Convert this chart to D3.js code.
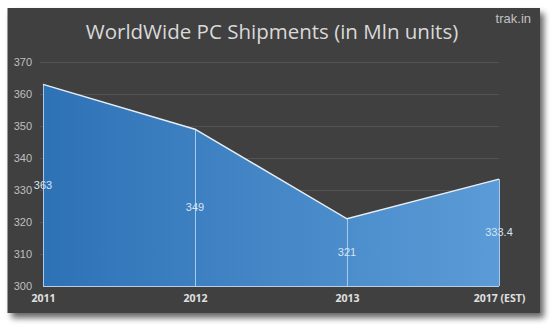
<!DOCTYPE html>
<html><head><meta charset="utf-8">
<script src="https://cdn.jsdelivr.net/npm/d3@7"></script>
<style>
html,body{margin:0;padding:0;background:#fff;}
svg{display:block;}
</style></head>
<body>
<svg id="c" width="551" height="326"></svg>
<script>
const categories = ["2011", "2012", "2013", "2017 (EST)"];
const values = [363, 349, 321, 333.4];
const valueLabels = ["363", "349", "321", "333.4"];
const yTicks = [300, 310, 320, 330, 340, 350, 360, 370];
const title = "WorldWide PC Shipments (in Mln units)";
const watermark = "trak.in";

const svg = d3.select("#c");
const defs = svg.append("defs");
const sh = defs.append("filter").attr("id","sh").attr("x","-5%").attr("y","-5%").attr("width","115%").attr("height","120%");
sh.append("feGaussianBlur").attr("in","SourceAlpha").attr("stdDeviation",3);
sh.append("feOffset").attr("dx",4).attr("dy",5).attr("result","b");
sh.append("feComponentTransfer").append("feFuncA").attr("type","linear").attr("slope",0.6);
const m = sh.append("feMerge"); m.append("feMergeNode"); m.append("feMergeNode").attr("in","SourceGraphic");

const gr = defs.append("linearGradient").attr("id","ag").attr("x1","0").attr("x2","1").attr("y1","0").attr("y2","0");
gr.append("stop").attr("offset","0").attr("stop-color","#2e72b6");
gr.append("stop").attr("offset","1").attr("stop-color","#5b9bd7");

svg.append("rect").attr("x",7.5).attr("y",8).attr("width",532.5).attr("height",305)
  .attr("fill","#404040").attr("filter","url(#sh)");

const x = d3.scalePoint().domain(categories).range([43, 499]);
const y = d3.scaleLinear().domain([300, 370]).range([286, 62]);

// gridlines
svg.append("g").selectAll("line").data(yTicks.filter(t=>t>300)).join("line")
  .attr("x1",40).attr("x2",499).attr("y1",d=>y(d)+0.5).attr("y2",d=>y(d)+0.5)
  .attr("stroke","#535353").attr("stroke-width",1);

const data = categories.map((c,i)=>({c, v: values[i], l: valueLabels[i]}));
const area = d3.area().x(d=>x(d.c)).y0(y(300)).y1(d=>y(d.v));
svg.append("path").datum(data).attr("d",area).attr("fill","url(#ag)");
// drop lines
svg.append("g").selectAll("line").data(data).join("line")
  .attr("x1",d=>x(d.c)+0.5).attr("x2",d=>x(d.c)+0.5).attr("y1",d=>y(d.v)).attr("y2",y(300))
  .attr("stroke","#a9c9ec").attr("stroke-width",1);
const line = d3.line().x(d=>x(d.c)).y(d=>y(d.v));
svg.append("path").datum(data).attr("d",line).attr("fill","none").attr("stroke","#e8eef6").attr("stroke-width",1.5);
// baseline
svg.append("line").attr("x1",43).attr("x2",499).attr("y1",y(300)+0.5).attr("y2",y(300)+0.5)
  .attr("stroke","#b8cfe6").attr("stroke-width",1);

// y axis labels
const yAxis = d3.axisLeft(y).tickValues(yTicks).tickSize(0).tickPadding(0);
const ya = svg.append("g").attr("transform","translate(32,0)").call(yAxis);
ya.select(".domain").remove();
ya.selectAll("text").attr("fill","#bfbfbf").style("font-family","'Liberation Sans',Arial,sans-serif").style("font-size","11px");

// x axis labels
const xAxis = d3.axisBottom(x).tickSize(0).tickPadding(0);
const xa = svg.append("g").attr("transform","translate(0,295)").call(xAxis);
xa.select(".domain").remove();
xa.selectAll("text").attr("fill","#e0e0e0").style("font-family","'Open Sans',sans-serif").style("font-weight","bold").style("font-size","10.5px");

// value labels
svg.append("g").selectAll("text").data(data).join("text")
  .attr("x",d=>x(d.c)).attr("y",d=>(y(d.v)+y(300))/2).attr("dy","0.35em")
  .attr("text-anchor","middle").attr("fill","#d6e4f3")
  .style("font-family","'Liberation Sans',Arial,sans-serif").style("font-size","11px")
  .text(d=>d.l);

svg.append("text").attr("x",272).attr("y",38.5).attr("text-anchor","middle")
  .attr("fill","#d9d9d9").style("font-family","'Open Sans',sans-serif").style("font-size","20.5px")
  .text(title);
svg.append("text").attr("x",531).attr("y",23).attr("text-anchor","end")
  .attr("fill","#c0c0c0").style("font-family","'Liberation Sans',Arial,sans-serif").style("font-size","13px")
  .text(watermark);
</script>
</body></html>
